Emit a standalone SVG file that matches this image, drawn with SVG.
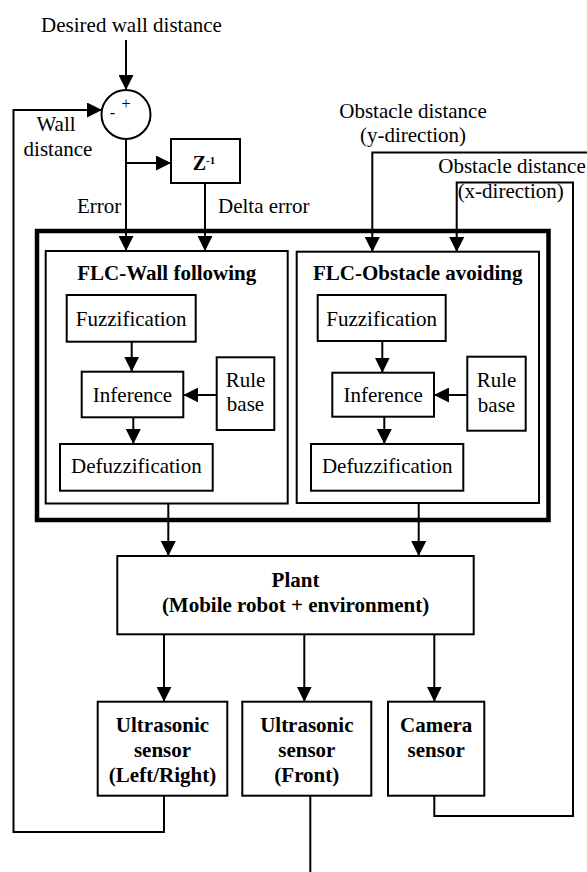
<svg xmlns="http://www.w3.org/2000/svg" width="587" height="872" viewBox="0 0 587 872">
<defs>
<style>
text{font-family:"Liberation Serif","Times New Roman","DejaVu Serif",serif;font-size:21px;fill:#000}
.b{font-weight:bold}
.m{text-anchor:middle}
.box{fill:#fff;stroke:#000;stroke-width:2}
.ln{fill:none;stroke:#000;stroke-width:2}
.ar{fill:none;stroke:#000;stroke-width:2;marker-end:url(#ah)}
</style>
<marker id="ah" markerUnits="userSpaceOnUse" markerWidth="15" markerHeight="15" refX="14" refY="7" orient="auto" viewBox="0 0 14 14">
<path d="M0,0 L14,7 L0,14 z" fill="#000"/>
</marker>
</defs>
<rect width="587" height="872" fill="#fff"/>

<g id="labels" font-family="Liberation Serif, serif">
<text class="m" x="131.5" y="32">Desired wall distance</text>
<text class="m" x="56" y="131">Wall</text>
<text class="m" x="58" y="156">distance</text>
<text x="77" y="213.3">Error</text>
<text x="218" y="213.3">Delta error</text>
<text class="m" x="413" y="118">Obstacle distance</text>
<text class="m" x="413" y="141.7">(y-direction)</text>
<text class="m" x="512" y="173.3">Obstacle distance</text>
<text class="m" x="510.7" y="198.3">(x-direction)</text>
</g>

<g id="sum">
<circle cx="126" cy="114.5" r="24.5" fill="#fff" stroke="#000" stroke-width="2"/>
<text class="m" x="126" y="108.5" style="font-size:16px">+</text>
<text class="m" x="112.5" y="118" style="font-size:16px">-</text>
</g>

<g id="delay">
<rect class="box" x="171" y="139" width="69" height="44"/>
<text class="b" x="192.7" y="170" style="font-size:20px">Z</text>
<text class="b" x="206" y="164" style="font-size:11px">-1</text>
</g>

<g id="controller">
<rect x="37" y="231" width="511.5" height="289" fill="none" stroke="#000" stroke-width="4.5"/>
</g>

<g id="flc-wall">
<rect class="box" x="45.7" y="251" width="242" height="252.5"/>
<text class="b m" x="166.7" y="280">FLC-Wall following</text>
</g>
<g id="fuzz-wall">
<rect class="box" x="66.7" y="295" width="129" height="46.7"/>
<text class="m" x="131.2" y="325.7">Fuzzification</text>
</g>
<g id="inf-wall">
<rect class="box" x="81.7" y="371.7" width="101.6" height="45.6"/>
<text class="m" x="132.5" y="401.7">Inference</text>
</g>
<g id="rule-wall">
<rect class="box" x="216.7" y="357.3" width="57.6" height="72.7"/>
<text class="m" x="245.5" y="386.7">Rule</text>
<text class="m" x="245.5" y="411.3">base</text>
</g>
<g id="defuzz-wall">
<rect class="box" x="60" y="444" width="152.7" height="46.7"/>
<text class="m" x="136.4" y="473.3">Defuzzification</text>
</g>

<g id="flc-obstacle">
<rect class="box" x="296.7" y="251.7" width="242.3" height="251.3"/>
<text class="b m" x="417.7" y="280">FLC-Obstacle avoiding</text>
</g>
<g id="fuzz-obs">
<rect class="box" x="317.7" y="295" width="128" height="46"/>
<text class="m" x="381.7" y="325.7">Fuzzification</text>
</g>
<g id="inf-obs">
<rect class="box" x="332.3" y="372.7" width="101.7" height="44"/>
<text class="m" x="383.2" y="401.7">Inference</text>
</g>
<g id="rule-obs">
<rect class="box" x="467.3" y="356.7" width="58.4" height="74"/>
<text class="m" x="496.5" y="386.7">Rule</text>
<text class="m" x="496.5" y="411.7">base</text>
</g>
<g id="defuzz-obs">
<rect class="box" x="311" y="444" width="152.3" height="46.7"/>
<text class="m" x="387.2" y="473.3">Defuzzification</text>
</g>

<g id="plant">
<rect class="box" x="117.3" y="556" width="356.4" height="78.3"/>
<text class="b m" x="295.5" y="587">Plant</text>
<text class="b m" x="295.5" y="611.7">(Mobile robot + environment)</text>
</g>

<g id="us-lr">
<rect class="box" x="97.7" y="701.7" width="129.6" height="94"/>
<text class="b m" x="162.5" y="732.3">Ultrasonic</text>
<text class="b m" x="162.5" y="756.7">sensor</text>
<text class="b m" x="162.5" y="781.7">(Left/Right)</text>
</g>
<g id="us-front">
<rect class="box" x="242.3" y="701.7" width="129" height="94"/>
<text class="b m" x="306.8" y="732.3">Ultrasonic</text>
<text class="b m" x="306.8" y="756.7">sensor</text>
<text class="b m" x="306.8" y="781.7">(Front)</text>
</g>
<g id="camera">
<rect class="box" x="388" y="701.7" width="96.3" height="94"/>
<text class="b m" x="436.2" y="732.3">Camera</text>
<text class="b m" x="436.2" y="756.7">sensor</text>
</g>

<g id="connectors">
<line class="ar" x1="126" y1="40" x2="126" y2="90"/>
<polyline class="ar" points="164,796 164,832 13.5,832 13.5,110 102,110"/>
<line class="ar" x1="126" y1="139" x2="126" y2="251"/>
<line class="ar" x1="126" y1="163" x2="171" y2="163"/>
<line class="ar" x1="205" y1="183" x2="205" y2="251"/>
<polyline class="ar" points="587,152.5 372.3,152.5 372.3,252"/>
<polyline class="ar" points="434.3,796 434.3,816 573,816 573,182.5 456.7,182.5 456.7,252"/>
<line class="ar" x1="131.7" y1="341.7" x2="131.7" y2="371.7"/>
<line class="ar" x1="216.7" y1="395" x2="183.3" y2="395"/>
<line class="ar" x1="133.3" y1="417.3" x2="133.3" y2="444"/>
<line class="ar" x1="382.3" y1="341" x2="382.3" y2="372.7"/>
<line class="ar" x1="467.3" y1="395" x2="434" y2="395"/>
<line class="ar" x1="384.3" y1="416.7" x2="384.3" y2="444"/>
<line class="ar" x1="168.3" y1="504" x2="168.3" y2="556"/>
<line class="ar" x1="418.7" y1="504" x2="418.7" y2="556"/>
<line class="ar" x1="164" y1="634.3" x2="164" y2="701.7"/>
<line class="ar" x1="304.3" y1="634.3" x2="304.3" y2="701.7"/>
<line class="ar" x1="434.3" y1="634.3" x2="434.3" y2="701.7"/>
<line class="ln" x1="310.3" y1="796" x2="310.3" y2="872"/>
</g>
</svg>
